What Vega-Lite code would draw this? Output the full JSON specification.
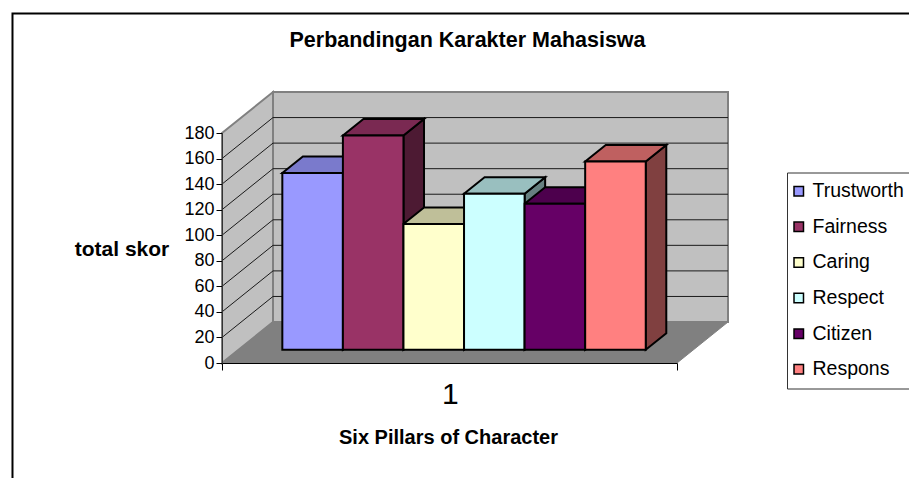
{
"$schema":"https://vega.github.io/schema/vega-lite/v6.json",
"width":455,"height":230,
"autosize":"none",
"padding":{"left":222,"top":133,"right":232,"bottom":115},
"background":"white",
"title":{"text":"Perbandingan Karakter Mahasiswa","font":"Liberation Sans","fontSize":21.5,"fontWeight":"bold","anchor":"middle","frame":"group","dx":18,"offset":-39,"color":"black"},
"config":{"view":{"stroke":null},"font":"Liberation Sans"},
"data":{"values":[
{"pillar":"Trustworth","total":138.3},
{"pillar":"Fairness","total":167.7},
{"pillar":"Caring","total":98.4},
{"pillar":"Respect","total":122},
{"pillar":"Citizen","total":114.2},
{"pillar":"Respons","total":147.3}
]},
"datasets":{
"depth":[{"z":0},{"z":1}],
"ticks":[{"v":20},{"v":40},{"v":60},{"v":80},{"v":100},{"v":120},{"v":140},{"v":160}],
"one":[{"part":"plane"}]
},
"layer":[
{"data":{"name":"one"},
 "mark":{"type":"rect","fill":"white","stroke":"black","strokeWidth":2,"clip":false},
 "encoding":{
  "x":{"datum":-3.459,"type":"quantitative","scale":{"domain":[0,7.512],"nice":false,"zero":false},"axis":{
    "values":[0,7.512],"labels":false,"title":"Six Pillars of Character","titleFont":"Liberation Sans","titleFontSize":20,"titleFontWeight":"bold","titleColor":"black","titleX":226,"titleY":80,"titleAlign":"center","titleBaseline":"alphabetic","tickColor":"black","tickSize":7,"domainColor":"black","grid":false,"zindex":1}},
  "x2":{"datum":12},
  "y":{"datum":273.5,"type":"quantitative","scale":{"domain":[0,180],"nice":false},"axis":{
    "values":[0,20,40,60,80,100,120,140,160,180],"tickCount":10,"labelOverlap":false,"labelBound":false,"title":"total skor","titleAngle":0,"titleFont":"Liberation Sans","titleFontSize":21,"titleFontWeight":"bold","titleColor":"black","titleX":-100.5,"titleY":116,"titleAlign":"center","titleBaseline":"middle","labelFont":"Liberation Sans","labelFontSize":18,"labelColor":"black","tickColor":"black","tickSize":6,"domainColor":"#333333","grid":false,"labelPadding":2,"zindex":1}},
  "y2":{"datum":-100}}},
{"data":{"name":"one"},
 "mark":{"type":"rect","fill":"#C0C0C0","stroke":"#808080","strokeWidth":2},
 "encoding":{
  "x":{"datum":0.842,"type":"quantitative"},
  "x2":{"datum":8.354},
  "y":{"datum":212.08,"type":"quantitative"},
  "y2":{"datum":32.08}}},
{"data":{"name":"depth"},
 "transform":[{"calculate":"datum.z*0.842","as":"px"},{"calculate":"180+datum.z*32.08","as":"t"},{"calculate":"datum.z*32.08","as":"b"}],
 "mark":{"type":"area","orient":"vertical","fill":"#C0C0C0","stroke":"#808080","strokeWidth":2},
 "encoding":{
  "x":{"field":"px","type":"quantitative"},
  "y":{"field":"t","type":"quantitative","stack":null},
  "y2":{"field":"b"}}},
{"data":{"name":"depth"},
 "transform":[{"calculate":"datum.z*0.842","as":"l"},{"calculate":"7.512+datum.z*0.842","as":"r"},{"calculate":"datum.z*32.08","as":"h"}],
 "mark":{"type":"area","orient":"horizontal","fill":"#808080","stroke":"#808080","strokeWidth":1},
 "encoding":{
  "y":{"field":"h","type":"quantitative"},
  "x":{"field":"l","type":"quantitative","stack":null},
  "x2":{"field":"r"}}},
{"data":{"name":"ticks"},
 "transform":[{"calculate":"datum.v+32.08","as":"vb"},{"calculate":"0","as":"x0"},{"calculate":"0.842","as":"x1"}],
 "mark":{"type":"rule","stroke":"#1a1a1a","strokeWidth":1},
 "encoding":{
  "x":{"field":"x0","type":"quantitative"},
  "x2":{"field":"x1"},
  "y":{"field":"v","type":"quantitative"},
  "y2":{"field":"vb"}}},
{"data":{"name":"ticks"},
 "transform":[{"calculate":"datum.v+32.08","as":"vb"},{"calculate":"0.842","as":"x0"},{"calculate":"8.354","as":"x1"}],
 "mark":{"type":"rule","stroke":"#1a1a1a","strokeWidth":1},
 "encoding":{
  "x":{"field":"x0","type":"quantitative"},
  "x2":{"field":"x1"},
  "y":{"field":"vb","type":"quantitative"}}},
{"transform":[
  {"window":[{"op":"row_number","as":"i"}]},
  {"calculate":"[0.324,0.727]","as":"z"},{"flatten":["z"]},
  {"calculate":"0.723+datum.i+datum.z*0.842","as":"sx"},
  {"calculate":"datum.total+datum.z*32.08","as":"t"},
  {"calculate":"datum.z*32.08","as":"b"}],
 "mark":{"type":"area","orient":"vertical","stroke":"black","strokeWidth":2},
 "encoding":{
  "x":{"field":"sx","type":"quantitative"},
  "y":{"field":"t","type":"quantitative","stack":null},
  "y2":{"field":"b"},
  "fill":{"field":"pillar","type":"nominal","legend":null,"sort":null,
    "scale":{"domain":["Trustworth","Fairness","Caring","Respect","Citizen","Respons"],"range":["#4D4D80","#4D1A33","#808066","#668080","#330033","#804040"]}}}},
{"transform":[
  {"window":[{"op":"row_number","as":"i"}]},
  {"calculate":"[0.324,0.727]","as":"z"},{"flatten":["z"]},
  {"calculate":"datum.i-0.277+datum.z*0.842","as":"l"},
  {"calculate":"datum.l+1","as":"r"},
  {"calculate":"datum.total+datum.z*32.08","as":"h"}],
 "mark":{"type":"area","orient":"horizontal","stroke":"black","strokeWidth":2},
 "encoding":{
  "y":{"field":"h","type":"quantitative"},
  "x":{"field":"l","type":"quantitative","stack":null},
  "x2":{"field":"r"},
  "fill":{"field":"pillar","type":"nominal","legend":null,"sort":null,
    "scale":{"domain":["Trustworth","Fairness","Caring","Respect","Citizen","Respons"],"range":["#7A7ACC","#7A2952","#BFBF99","#99BFBF","#4D004D","#BF6060"]}}}},
{"transform":[
  {"window":[{"op":"row_number","as":"i"}]},
  {"calculate":"datum.i-0.004","as":"l"},
  {"calculate":"datum.l+1","as":"r"},
  {"calculate":"10.39","as":"b"},
  {"calculate":"datum.total+datum.b","as":"t"}],
 "mark":{"type":"rect","stroke":"black","strokeWidth":2},
 "encoding":{
  "x":{"field":"l","type":"quantitative"},
  "x2":{"field":"r"},
  "y":{"field":"t","type":"quantitative"},
  "y2":{"field":"b"},
  "fill":{"field":"pillar","type":"nominal","sort":null,
    "scale":{"domain":["Trustworth","Fairness","Caring","Respect","Citizen","Respons"],"range":["#9999FF","#993366","#FFFFCC","#CCFFFF","#660066","#FF8080"]},
    "legend":{"title":null,"orient":"none","legendX":565,"legendY":39.5,"symbolType":"square","symbolSize":90,"symbolStrokeColor":"black","symbolStrokeWidth":1.5,"strokeColor":"#333333","padding":9,"labelFont":"Liberation Sans","labelFontSize":19.5,"labelColor":"black","labelLimit":200,"rowPadding":14.6,"labelOffset":4,"symbolOffset":-7}}}},
{"data":{"name":"one"},
 "mark":{"type":"text","text":"1","font":"Liberation Sans","fontSize":30,"color":"black","baseline":"middle"},
 "encoding":{
  "x":{"datum":3.77,"type":"quantitative"},
  "y":{"datum":-25,"type":"quantitative"}}}
],
"resolve":{"scale":{"fill":"independent"}}
}
